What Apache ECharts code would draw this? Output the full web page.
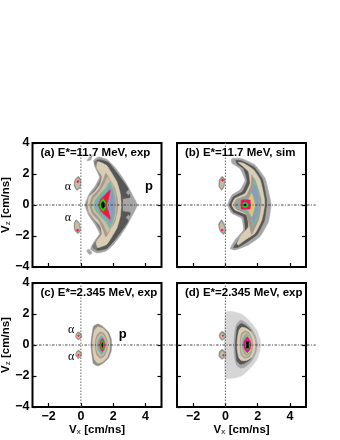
<!DOCTYPE html>
<html><head><meta charset="utf-8">
<style>html,body{margin:0;padding:0;background:#fff}#c{width:340px;height:440px}</style>
<script src="https://cdn.jsdelivr.net/npm/echarts@6/dist/echarts.min.js"></script>
</head><body><div id="c"></div>
<script>
const xTicks=[-2,0,2,4];
const yTicks=[-4,-2,0,2,4];
const panelTitles=["(a) E*=11.7 MeV, exp","(b) E*=11.7 MeV, sim","(c) E*=2.345 MeV, exp","(d) E*=2.345 MeV, exp"];
const levelColors={pale:"#d6d6d6",light:"#a6a6a6",dark:"#565656",edge:"#7a7a7a",mid:"#8c8c88",beige:"#d9ceb4",brown:"#a8968a",tan:"#c6bea6",teal:"#7cb4a4",steel:"#8c9cb8",yellow:"#d8c878",red:"#f0183c",magenta:"#e0108c",green:"#10e010",black:"#000000"};

const ringsA=[
["light",[[1.1,3.1],[1.6,2.95],[2.1,2.45],[2.5,1.9],[2.9,1.25],[3.2,.65],[3.5,0],[3.2,-.65],[2.9,-1.25],[2.5,-1.9],[2.1,-2.45],[1.6,-2.95],[1,-3.1],[.6,-2.85],[.8,-2.4],[1.15,-1.85],[.9,-1.3],[.5,-.7],[.25,0],[.5,.7],[.9,1.25],[1.15,1.8],[.85,2.5],[.8,2.9]]],
["edge",[[1.2,2.95],[1.7,2.75],[2.1,2.25],[2.5,1.7],[2.9,1.1],[3.05,.5],[2.6,.4],[2.6,-.4],[3.05,-.5],[2.9,-1.1],[2.5,-1.7],[2.1,-2.25],[1.6,-2.8],[1,-2.95],[.7,-2.7],[.95,-2.3],[1.25,-1.8],[1,-1.25],[.6,-.65],[.35,0],[.6,.65],[1,1.2],[1.25,1.8],[.95,2.45],[.85,2.8]]],
["dark",[[1,2.9],[1.7,2.75],[2.1,2.25],[2.5,1.7],[2.9,1.1],[3.05,.5],[2.6,.4],[2.6,-.4],[3.05,-.5],[2.9,-1.1],[2.5,-1.7],[2.1,-2.25],[1.6,-2.8],[1,-2.9],[1.3,-2.2],[1.6,-1.5],[1.6,0],[1.6,1.5],[1.3,2.2]]],
["light",[[2.95,.95],[3.05,.8],[2.95,.65],[2.82,.8]]],
["light",[[2.95,-.65],[3.05,-.8],[2.95,-.95],[2.82,-.8]]],
["beige",[[1.05,2.8],[1.6,2.55],[1.95,2],[2.25,1.45],[2.45,.7],[2.5,0],[2.45,-.7],[2.25,-1.45],[1.95,-2],[1.6,-2.55],[1.05,-2.75],[.95,-2.4],[1.3,-1.85],[1.2,-1.35],[.85,-.95],[.5,-.45],[.42,0],[.5,.5],[.88,.88],[1.2,1.35],[1.3,1.85],[.98,2.4]]],
["brown",[[1.55,2.05],[1.85,1.55],[2.1,1.1],[2.25,.5],[2.3,0],[2.25,-.5],[2.1,-1.1],[1.85,-1.55],[1.55,-2.05],[1.38,-1.6],[1.1,-1],[.7,-.55],[.55,0],[.7,.55],[1.1,1],[1.38,1.6]]],
["tan",[[1.65,1.8],[1.95,1.3],[2.15,.7],[2.2,0],[2.15,-.7],[1.95,-1.3],[1.65,-1.8],[1.45,-1.35],[1.15,-.85],[.78,-.4],[.68,0],[.78,.4],[1.15,.85],[1.45,1.35]]],
["teal",[[1.8,1.5],[2,1.05],[2.12,.5],[2.15,0],[2.12,-.5],[2,-1.05],[1.8,-1.5],[1.55,-1.1],[1.2,-.72],[.88,-.3],[.82,0],[.88,.3],[1.2,.72],[1.55,1.1]]],
["steel",[[1.82,1.2],[1.98,.8],[2.08,.3],[2.12,0],[2.08,-.3],[1.98,-.8],[1.82,-1.2],[1.55,-.8],[1.15,-.42],[.98,0],[1.15,.42],[1.55,.8]]],
["red",[[1.82,.98],[1.72,.45],[1.6,0],[1.72,-.45],[1.82,-.92],[1.5,-.65],[1.25,-.4],[1.1,0],[1.25,.4],[1.5,.65]]],
["green",[[1.38,.42],[1.54,.15],[1.55,-.15],[1.38,-.42],[1.22,-.2],[1.15,0],[1.22,.2]]],
["black",[[1.38,.22],[1.48,.05],[1.47,-.12],[1.36,-.22],[1.26,-.05],[1.27,.1]]],
["light",[[.55,3.12],[.72,3.2],[.6,2.9],[.38,2.85]]],
["light",[[.5,-2.85],[.7,-3.1],[.55,-3.2],[.35,-2.95]]],
["mid",[[-.15,1.85],[.0,1.6],[-.05,1.1],[-.25,.95],[-.42,1.25],[-.38,1.6]]],
["tan",[[-.15,1.72],[-.06,1.5],[-.1,1.15],[-.25,1.05],[-.35,1.3],[-.3,1.6]]],
["red",[[-.17,1.6],[-.12,1.5],[-.2,1.42],[-.25,1.52]]],
["mid",[[-.3,-.95],[-.1,-1.15],[-.02,-1.65],[-.18,-1.85],[-.4,-1.6],[-.42,-1.2]]],
["tan",[[-.28,-1.05],[-.14,-1.2],[-.08,-1.6],[-.2,-1.75],[-.34,-1.55],[-.36,-1.25]]],
["red",[[-.2,-1.55],[-.12,-1.62],[-.2,-1.72],[-.28,-1.62]]]
];
const ringsB=[
["light",[[.4,3],[1,3],[1.84,2.58],[2.46,1.72],[2.77,.43],[2.84,0],[2.67,-1.08],[2.15,-2.04],[1.43,-2.58],[.6,-2.9],[.3,-2.8],[.6,-2.25],[1.12,-1.6],[1,-.86],[.4,-.54],[.14,0],[.4,.65],[.9,.97],[1.22,1.6],[.9,2.36],[.4,2.7]]],
["dark",[[.65,2.88],[1,2.85],[1.8,2.42],[2.3,1.65],[2.55,.43],[2.56,0],[2.42,-1],[1.98,-1.9],[1.3,-2.42],[.75,-2.75],[.5,-2.75],[.78,-2.3],[1.22,-1.65],[1.12,-.76],[.5,-.46],[.26,0],[.5,.53],[1.05,.85],[1.35,1.55],[1.12,2.35],[.72,2.65]]],
["beige",[[.8,2.75],[1.15,2.68],[1.76,2.26],[2.17,1.6],[2.42,.43],[2.44,0],[2.26,-.97],[1.84,-1.83],[1.22,-2.26],[.8,-2.58],[.72,-2.48],[1,-1.94],[1.43,-1.4],[1.32,-.65],[.6,-.32],[.4,0],[.6,.43],[1.22,.75],[1.53,1.4],[1.43,2.15],[1,2.58]]],
["brown",[[1.64,1.94],[1.9,1.4],[2.2,.45],[2.22,0],[2.08,-.9],[1.8,-1.55],[1.62,-1.9],[1.48,-1.25],[1.25,-.55],[.7,-.27],[.52,0],[.7,.36],[1.3,.62],[1.6,1.3]]],
["teal",[[1.8,1.72],[2,1.1],[2.15,.43],[2.15,0],[2,-.86],[1.74,-1.4],[1.53,-.65],[.8,-.2],[.64,0],[.8,.32],[1.43,.54],[1.74,1.3]]],
["steel",[[1.84,1.3],[1.96,.85],[2.05,.43],[2.08,0],[1.94,-.7],[1.76,-1.15],[1.55,-.55],[.88,-.16],[.74,0],[.88,.24],[1.45,.46],[1.72,1.1]]],
["yellow",[[1.64,.75],[1.76,.35],[1.84,0],[1.76,-.35],[1.64,-.75],[1.42,-.36],[.98,-.2],[.88,0],[.98,.25],[1.42,.36]]],
["red",[[1,.32],[1.53,.32],[1.55,0],[1.53,-.26],[1,-.26],[.95,0]]],
["magenta",[[1.05,.25],[1.47,.25],[1.49,0],[1.47,-.2],[1.05,-.2],[1,0]]],
["green",[[1.22,.17],[1.38,.1],[1.43,0],[1.38,-.1],[1.22,-.17],[1.08,-.1],[1.05,0],[1.08,.1]]],
["black",[[1.22,.08],[1.3,0],[1.22,-.08],[1.14,0]]],
["mid",[[-.2,1.85],[-.02,1.65],[-.08,1.2],[-.22,.95],[-.4,1.2],[-.38,1.6]]],
["tan",[[-.2,1.72],[-.08,1.6],[-.13,1.25],[-.23,1.08],[-.33,1.25],[-.3,1.55]]],
["red",[[-.18,1.68],[-.1,1.6],[-.18,1.52],[-.25,1.6]]],
["mid",[[-.24,-.95],[-.08,-1.2],[.05,-1.65],[-.12,-1.9],[-.35,-1.65],[-.42,-1.25]]],
["tan",[[-.24,-1.08],[-.14,-1.25],[-.03,-1.6],[-.14,-1.78],[-.3,-1.6],[-.34,-1.3]]],
["red",[[-.2,-1.55],[-.12,-1.62],[-.2,-1.7],[-.27,-1.62]]]
];
const ringsC=[
["mid",[[1.05,1.35],[1.35,1.2],[1.7,.85],[1.88,.4],[1.9,0],[1.88,-.4],[1.7,-.85],[1.35,-1.2],[1.05,-1.35],[.78,-1.2],[.68,-.6],[.62,0],[.68,.6],[.78,1.2]]],
["beige",[[1.05,1.18],[1.35,1.08],[1.62,.8],[1.78,.35],[1.8,0],[1.78,-.35],[1.62,-.8],[1.35,-1.08],[1.05,-1.18],[.85,-.95],[.76,-.5],[.72,0],[.76,.5],[.85,.95]]],
["brown",[[1.22,.85],[1.45,.72],[1.62,.35],[1.65,0],[1.62,-.35],[1.45,-.72],[1.22,-.85],[1,-.65],[.9,-.3],[.88,0],[.9,.3],[1,.65]]],
["tan",[[1.25,.75],[1.42,.62],[1.56,.3],[1.58,0],[1.56,-.3],[1.42,-.62],[1.25,-.75],[1.05,-.55],[.96,-.25],[.95,0],[.96,.25],[1.05,.55]]],
["teal",[[1.28,.62],[1.42,.48],[1.52,.2],[1.52,0],[1.52,-.2],[1.42,-.48],[1.28,-.62],[1.1,-.42],[1.02,-.15],[1.02,0],[1.02,.15],[1.1,.42]]],
["steel",[[1.3,.52],[1.42,.35],[1.48,0],[1.42,-.35],[1.3,-.52],[1.14,-.3],[1.08,0],[1.14,.3]]],
["red",[[1.33,.42],[1.45,.2],[1.47,0],[1.45,-.2],[1.33,-.42],[1.2,-.2],[1.17,0],[1.2,.2]]],
["green",[[1.33,.3],[1.41,.12],[1.41,-.12],[1.33,-.3],[1.24,-.12],[1.24,.12]]],
["black",[[1.33,.16],[1.37,0],[1.33,-.16],[1.29,0]]],
["mid",[[-.15,.85],[.03,.7],[.05,.5],[-.15,.33],[-.32,.5],[-.3,.72]]],
["tan",[[-.15,.75],[-.03,.65],[-.03,.5],[-.15,.42],[-.26,.52],[-.25,.68]]],
["red",[[-.15,.65],[-.09,.6],[-.15,.54],[-.21,.6]]],
["mid",[[-.15,-.33],[.03,-.5],[.05,-.7],[-.15,-.88],[-.32,-.7],[-.3,-.5]]],
["tan",[[-.15,-.43],[-.03,-.55],[-.03,-.72],[-.15,-.8],[-.26,-.7],[-.25,-.53]]],
["red",[[-.15,-.6],[-.09,-.65],[-.15,-.72],[-.21,-.65]]]
];
const ringsD=[
["pale",[[0,2.12],[.45,2.15],[1,2],[1.5,1.55],[1.95,.95],[2.15,.35],[2.18,0],[2.15,-.35],[1.95,-.95],[1.5,-1.55],[1,-2],[.45,-2.15],[0,-2.15]]],
["light",[[.95,1.6],[1.25,1.45],[1.62,1.05],[1.88,.55],[1.98,0],[1.88,-.55],[1.62,-1.05],[1.25,-1.4],[.95,-1.5],[.7,-1.3],[.58,-.85],[.52,0],[.58,.85],[.7,1.35]]],
["dark",[[.98,1.38],[1.3,1.22],[1.6,.9],[1.3,.4],[1.3,-.4],[1.6,-.85],[1.25,-1.15],[.95,-1.25],[.72,-1.05],[.66,-.6],[.62,0],[.66,.6],[.74,1.15]]],
["beige",[[1,1.14],[1.3,1.08],[1.62,.82],[1.82,.35],[1.85,0],[1.82,-.35],[1.62,-.8],[1.3,-1],[1,-1],[.85,-.85],[.76,-.5],[.72,0],[.76,.5],[.85,.95]]],
["brown",[[1.2,.92],[1.48,.78],[1.66,.35],[1.68,0],[1.66,-.35],[1.48,-.78],[1.2,-.85],[.98,-.65],[.92,-.3],[.92,0],[.92,.3],[.98,.7]]],
["tan",[[1.22,.84],[1.45,.7],[1.6,.32],[1.62,0],[1.6,-.32],[1.45,-.7],[1.22,-.78],[1.02,-.58],[.97,-.25],[.97,0],[.97,.25],[1.02,.62]]],
["teal",[[1.3,.72],[1.5,.55],[1.62,.2],[1.62,0],[1.62,-.2],[1.5,-.55],[1.3,-.68],[1.12,-.48],[1.05,-.2],[1.04,0],[1.05,.2],[1.12,.5]]],
["yellow",[[1.36,.6],[1.55,.35],[1.62,0],[1.55,-.35],[1.36,-.58],[1.18,-.3],[1.12,0],[1.18,.3]]],
["magenta",[[1.36,.54],[1.54,.28],[1.6,.04],[1.54,-.25],[1.36,-.5],[1.18,-.25],[1.12,.04],[1.18,.3]]],
["green",[[1.38,.3],[1.5,.12],[1.5,-.12],[1.38,-.3],[1.26,-.12],[1.26,.12]]],
["black",[[1.36,.22],[1.44,.22],[1.44,-.2],[1.36,-.2],[1.3,-.2],[1.3,.22]]],
["mid",[[-.2,.88],[0,.72],[.02,.48],[-.2,.3],[-.38,.5],[-.36,.72]]],
["tan",[[-.2,.75],[-.05,.65],[-.05,.5],[-.2,.4],[-.3,.52],[-.28,.68]]],
["red",[[-.15,.65],[-.09,.6],[-.15,.54],[-.21,.6]]],
["mid",[[-.2,-.27],[0,-.45],[.05,-.7],[-.2,-.92],[-.4,-.72],[-.38,-.45]]],
["tan",[[-.2,-.4],[-.05,-.52],[-.03,-.72],[-.2,-.82],[-.32,-.7],[-.3,-.52]]],
["red",[[-.12,-.6],[-.05,-.66],[-.12,-.72],[-.19,-.66]]]
];
const notesA=[[4.22,1.2,"p"],[-.8,1.2,"α"],[-.8,-.8,"α"]];
const notesC=[[2.6,.7,"p"],[-.6,.95,"α"],[-.6,-.77,"α"]];

const boxes=[
 {l:32.5,t:143,rings:ringsA,notes:notesA,hx:[-3,5.55],showY:true,showX:false,title:panelTitles[0],tx:40.5},
 {l:177,t:143,rings:ringsB,notes:[],hx:[-3.4,5.6],showY:false,showX:false,title:panelTitles[1],tx:185},
 {l:32.5,t:283,rings:ringsC,notes:notesC,hx:[-3,5.55],showY:true,showX:true,title:panelTitles[2],tx:40.5},
 {l:177,t:283,rings:ringsD,notes:[],hx:[-3.4,5.6],showY:false,showX:true,title:panelTitles[3],tx:185}
];
const W=129,H=124;
const font="Liberation Sans";
const rich={s:{fontSize:8,fontWeight:"bold",fontFamily:font,verticalAlign:"bottom",lineHeight:10},b:{fontSize:11.5,fontWeight:"bold",fontFamily:font,color:"#000"}};
const option={animation:false,backgroundColor:"#fff",grid:[],xAxis:[],yAxis:[],series:[],title:[]};
boxes.forEach((p,i)=>{
 option.grid.push({left:p.l,top:p.t,width:W,height:H,show:true,borderColor:"#000",borderWidth:2,backgroundColor:"transparent",containLabel:false,outerBoundsMode:"none"});
 const tick={show:true,inside:true,length:4,lineStyle:{color:"#000",width:1.2}};
 const lab={fontFamily:font,fontWeight:"bold",fontSize:12.5,color:"#000",formatter:v=>String(v).replace("-","\u2212")};
 option.xAxis.push({gridIndex:i,type:"value",min:-3,max:5,position:"bottom",axisLine:{show:false,onZero:false},splitLine:{show:false},
   axisTick:{...tick,customValues:xTicks},
   axisLabel:{...lab,show:p.showX,margin:3,customValues:xTicks},
   name:p.showX?"{b|V}{s|x}{b| [cm/ns]}":"",nameLocation:"middle",nameGap:15,nameTextStyle:{rich}});
 option.yAxis.push({gridIndex:i,type:"value",min:-4,max:4,position:"left",axisLine:{show:false,onZero:false},splitLine:{show:false},
   axisTick:{...tick,customValues:yTicks},
   axisLabel:{...lab,show:p.showY,margin:3,customValues:yTicks},
   name:p.showY?"{b|V}{s|z}{b| [cm/ns]}":"",nameLocation:"middle",nameGap:19,nameRotate:90,nameTextStyle:{rich}});
 option.yAxis.push({gridIndex:i,type:"value",min:-4,max:4,position:"right",axisLine:{show:false,onZero:false},splitLine:{show:false},
   axisTick:{...tick,customValues:[-2,0,2]},axisLabel:{show:false}});
 const xi=i,yi=i*2;
 option.series.push({type:"custom",xAxisIndex:xi,yAxisIndex:yi,clip:true,silent:true,z:2,
   data:p.rings.map((r,k)=>[k,r[1][0][0],r[1][0][1]]),
   encode:{x:1,y:2},
   renderItem:(params,api)=>{
     const r=p.rings[params.dataIndex];
     return {type:"polygon",shape:{points:r[1].map(q=>api.coord(q)),smooth:.15},style:{fill:levelColors[r[0]],stroke:levelColors[r[0]],lineWidth:.5}};
   }});
 option.series.push({type:"custom",xAxisIndex:xi,yAxisIndex:yi,clip:false,silent:true,z:3,
   data:[[0]],encode:{x:0},
   renderItem:(params,api)=>({type:"group",children:[
     {type:"line",shape:{x1:api.coord([p.hx[0],0])[0],y1:api.coord([0,0])[1],x2:api.coord([p.hx[1],0])[0],y2:api.coord([0,0])[1]},style:{stroke:"#444",lineWidth:1,lineDash:[2.5,1.5,1,1.5]}},
     {type:"line",shape:{x1:api.coord([0,-4])[0],y1:api.coord([0,-4])[1],x2:api.coord([0,4])[0],y2:api.coord([0,4])[1]},style:{stroke:"#666",lineWidth:1,lineDash:[1.5,1.5]}}
   ]})});
 if(p.notes.length) option.series.push({type:"custom",xAxisIndex:xi,yAxisIndex:yi,clip:false,silent:true,z:4,
   data:p.notes,encode:{x:0,y:1},
   renderItem:(params,api)=>{
     const n=p.notes[params.dataIndex],c=api.coord([n[0],n[1]]),isP=n[2]==="p";
     return {type:"text",style:{x:c[0],y:c[1],text:n[2],textAlign:"center",textVerticalAlign:"middle",fill:"#000",
       font:isP?"bold 13px 'Liberation Sans'":"12px 'Liberation Serif'"}};
   }});
 option.title.push({text:p.title,left:p.tx,top:p.t+3,padding:0,textStyle:{fontFamily:font,fontWeight:"bold",fontSize:11.5,color:"#000",lineHeight:13}});
});
echarts.init(document.getElementById("c"),null,{renderer:"canvas"}).setOption(option);
</script></body></html>
